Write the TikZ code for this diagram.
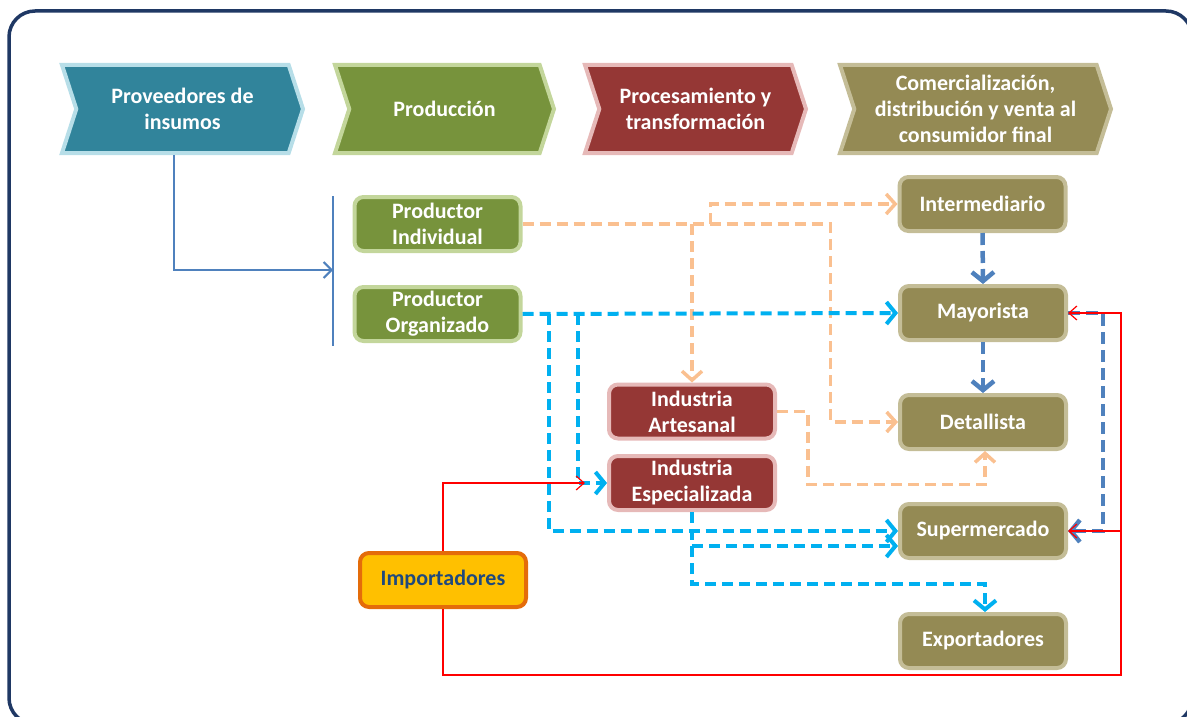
\documentclass[tikz,border=0pt]{standalone}
\usepackage{fontspec}
\setmainfont{Carlito}
\usepackage{xcolor}
\usepackage{tikz}
\usetikzlibrary{positioning, arrows.meta, shapes.symbols}
\definecolor{frameblue}{RGB}{31, 56, 100}
\definecolor{tealstage}{RGB}{49, 132, 155}
\definecolor{tealedge}{RGB}{183, 222, 232}
\definecolor{greenstage}{RGB}{119, 147, 60}
\definecolor{greenedge}{RGB}{195, 214, 155}
\definecolor{redstage}{RGB}{149, 55, 53}
\definecolor{rededge}{RGB}{230, 185, 184}
\definecolor{olivestage}{RGB}{148, 138, 84}
\definecolor{oliveedge}{RGB}{196, 189, 151}
\definecolor{importfill}{RGB}{255, 192, 0}
\definecolor{importedge}{RGB}{228, 108, 10}
\definecolor{importtext}{RGB}{31, 73, 125}
\definecolor{peachline}{RGB}{250, 192, 144}
\definecolor{cyanline}{RGB}{0, 176, 240}
\definecolor{steelline}{RGB}{79, 129, 189}
\definecolor{redline}{RGB}{255, 0, 0}

\begin{document}
\begin{tikzpicture}[x=1pt, y=-1pt,
        font=\fontsize{22}{26}\selectfont\bfseries,
        stage/.style={shape=signal, signal from=west, signal to=east, signal pointer angle=144,
            line width=4pt, minimum height=88pt, text=white, align=center, inner sep=0pt},
        actor/.style={rounded corners=9pt, line width=4pt, minimum width=166pt, minimum height=54pt,
            text=white, align=center, inner sep=2pt},
        peach/.style={draw=peachline, line width=3.5pt, dash pattern=on 11pt off 6pt,
            -{Straight Barb[length=9pt, width=20pt]}},
        cyanflow/.style={draw=cyanline, line width=4pt, dash pattern=on 11pt off 6pt,
            -{Straight Barb[length=9pt, width=22pt]}},
        steelflow/.style={draw=steelline, line width=4.5pt, dash pattern=on 12pt off 6pt,
            -{Straight Barb[length=9pt, width=22pt]}},
        importflow/.style={draw=redline, line width=1.2pt, -{Straight Barb[length=8pt, width=14pt]}}
    ]
    \useasboundingbox (0,0) rectangle (1187,717);
    \clip (0,0) rectangle (1187,717);
    \draw[frameblue, line width=3.5pt, rounded corners=26pt] (9,11) rectangle (1192,724);

    \node[stage, draw=tealedge, fill=tealstage, minimum width=241pt] (prov) at (182.5,109) {Proveedores de\\insumos};
    \node[stage, draw=greenedge, fill=greenstage, minimum width=219pt] (prod) at (444.5,109) {Producción};
    \node[stage, draw=rededge, fill=redstage, minimum width=221pt] (proc) at (695.5,109) {Procesamiento y\\transformación};
    \node[stage, draw=oliveedge, fill=olivestage, minimum width=271pt] (comer) at (975.5,109) {Comercialización,\\distribución y venta al\\consumidor final};

    \node[actor, draw=greenedge, fill=greenstage] (pind) at (437.5,224) {Productor\\Individual};
    \node[actor, draw=greenedge, fill=greenstage] (porg) at (437.5,314) {Productor\\Organizado};
    \node[actor, draw=rededge, fill=redstage] (art) at (692,411.5) {Industria\\Artesanal};
    \node[actor, draw=rededge, fill=redstage] (esp) at (692,483) {Industria\\Especializada};
    \node[actor, draw=importedge, fill=importfill, text=importtext] (imp) at (443,580) {Importadores};
    \node[actor, draw=oliveedge, fill=olivestage] (inter) at (982.5,204) {Intermediario};
    \node[actor, draw=oliveedge, fill=olivestage] (may) at (983,313) {Mayorista};
    \node[actor, draw=oliveedge, fill=olivestage] (det) at (983,422) {Detallista};
    \node[actor, draw=oliveedge, fill=olivestage] (sup) at (983,531) {Supermercado};
    \node[actor, draw=oliveedge, fill=olivestage] (exp) at (983,641) {Exportadores};

    \coordinate (bartop) at (333,196);
    \coordinate (barbot) at (333,346);
    \coordinate (barmid) at (333,270);
    \draw[steelline, line width=1.2pt] (bartop) -- (barbot);
    \draw[steelline, line width=2pt, -{Straight Barb[length=8pt, width=16pt]}] ([xshift=-9pt]prov.south) |- (barmid);

    \draw[peach] (pind.east) -- ++(308,0) |- (det.west);
    \draw[peach] ([xshift=188pt]pind.east) |- (inter.west);
    \draw[peach] (art.north |- pind.east) -- (art.north);
    \draw[peach] (art.east) -- ++(31,0) -- ++(0,73) -| ([xshift=2pt]det.south);

    \draw[cyanflow] (porg.east) -- (may.west);
    \draw[cyanflow] ([xshift=26pt]porg.east) |- (sup.west);
    \draw[cyanflow] ([xshift=55pt]porg.east) |- (esp.west);
    \draw[cyanflow] (esp.south) |- ([yshift=-15pt]sup.west);
    \draw[cyanflow] (esp.south) -- ++(0,72) -| ([xshift=2pt]exp.north);

    \draw[steelflow] (inter.south) -- (may.north);
    \draw[steelflow] (may.south) -- (det.north);
    \draw[steelflow] (may.east) -- ++(35,0) |- (sup.east);

    \coordinate (redturn) at (1121,675);
    \draw[importflow, shorten >=22pt] (imp.north) |- (esp.west);
    \draw[importflow] (imp.south) |- (redturn) |- (may.east);
    \draw[importflow] (redturn |- sup.east) -- (sup.east);
\end{tikzpicture}
\end{document}
